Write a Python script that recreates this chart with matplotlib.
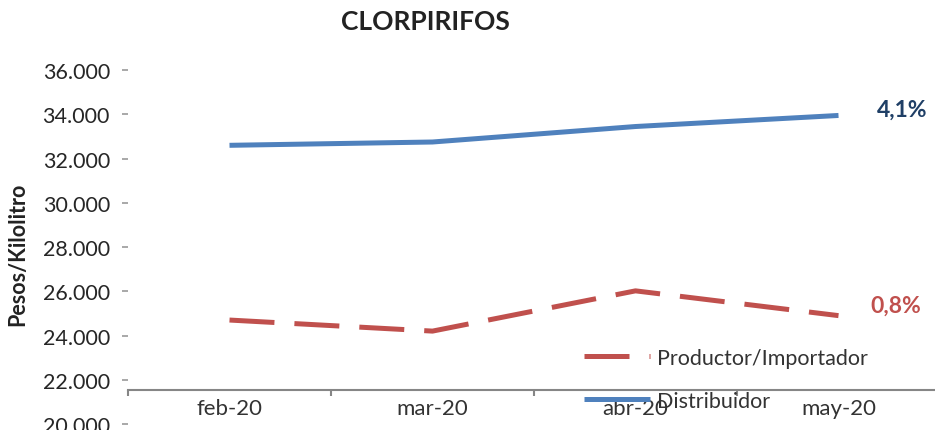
import matplotlib
matplotlib.use("Agg")
import matplotlib.pyplot as plt
from matplotlib.ticker import FixedLocator, NullFormatter

months = ["feb-20", "mar-20", "abr-20", "may-20"]
productor = [24700, 24200, 26020, 24900]
distribuidor = [32600, 32750, 33450, 33950]
y_ticks = [20000, 22000, 24000, 26000, 28000, 30000, 32000, 34000, 36000]
y_labels = ["20.000", "22.000", "24.000", "26.000", "28.000", "30.000", "32.000", "34.000", "36.000"]
title = "CLORPIRIFOS"
ylabel = "Pesos/Kilolitro"
labels = ["Productor/Importador", "Distribuidor"]
annot_dist = "4,1%"
annot_prod = "0,8%"

plt.rcParams['font.family'] = ['Lato', 'DejaVu Sans']

fig = plt.figure(figsize=(9.35, 4.31), dpi=100)
ax = fig.add_axes([128/935, 6/431, (940-128)/935, (425-49)/431])

x = list(range(len(months)))
red = "#C0504D"
blue = "#4F81BD"
lp, = ax.plot(x, productor, color=red, lw=3.6, linestyle=(0, (9, 4)), solid_capstyle='butt', dash_capstyle='butt')
ld, = ax.plot(x, distribuidor, color=blue, lw=3.6, solid_capstyle='butt')

ax.set_xlim(-0.5, 3.5)
ax.set_ylim(20000, 37000)

for s in ["top", "right", "left"]:
    ax.spines[s].set_visible(False)
ax.spines["bottom"].set_position(("data", 21540))
ax.spines["bottom"].set_color("#868686")
ax.spines["bottom"].set_linewidth(1.5)

ax.xaxis.set_major_locator(FixedLocator([-0.5, 0.5, 1.5, 2.5, 3.5]))
ax.xaxis.set_major_formatter(NullFormatter())
ax.xaxis.set_minor_locator(FixedLocator(x))
ax.set_xticklabels(months, minor=True)
ax.tick_params(axis="x", which="major", length=4.5, width=1.5, color="#868686", direction="out")
ax.tick_params(axis="x", which="minor", length=0, pad=6, labelsize=16, labelcolor="#333333")

ax.set_yticks(y_ticks)
ax.set_yticklabels(y_labels)
ax.tick_params(axis="y", length=4, width=1.2, color="#999999", pad=9, labelsize=15.5, labelcolor="#262626")

fig.text(425/935, 1 - 22/431, title, ha="center", va="center", fontsize=19, fontweight="bold", color="#222222")
fig.text(18/935, 1 - 254/431, ylabel, ha="center", va="center", rotation=90, fontsize=15.5, fontweight="bold", color="#222222")

fig.text(902/935, 1 - 110/431, annot_dist, ha="center", va="center", fontsize=16.5, fontweight="bold", color="#1F3F66")
fig.text(896/935, 1 - 306/431, annot_prod, ha="center", va="center", fontsize=16.5, fontweight="bold", color=red)

leg = fig.legend([lp, ld], labels, loc="upper left", bbox_to_anchor=(575/935, 1 - 340/431),
                 frameon=False, fontsize=15.5, handlelength=3.1, handletextpad=0.3, labelspacing=1.08,
                 labelcolor="#333333", borderaxespad=0, borderpad=0.4)

fig.savefig("out.png", dpi=100)
